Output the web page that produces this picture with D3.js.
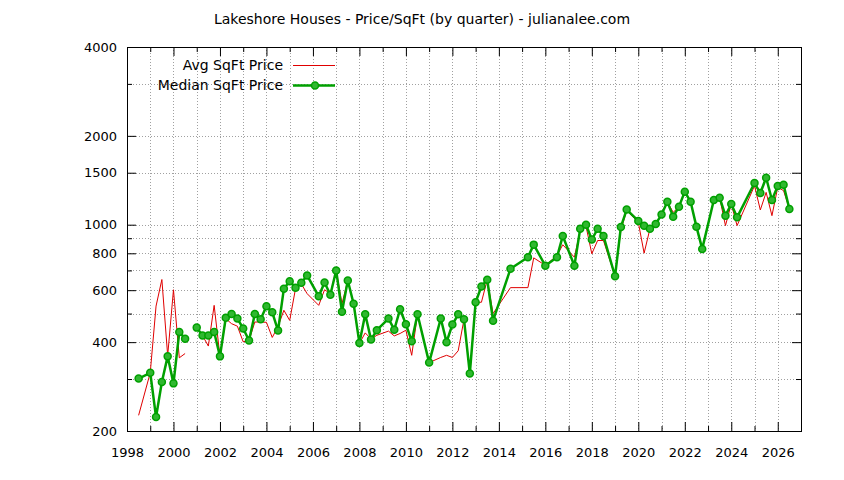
<!DOCTYPE html>
<html>
<head>
<meta charset="utf-8">
<script src="https://d3js.org/d3.v7.min.js"></script>
<style>
  body { margin: 0; background: #fff; }
  text { font-family: "DejaVu Sans", sans-serif; font-size: 13px; }
</style>
</head>
<body>
<div id="chart"></div>
<script>
// data (quarter as decimal year, null = no data -> gap in line)
var quarters = [1998.5, 1999.0, 1999.25, 1999.5, 1999.75, 2000.0, 2000.25, 2000.5, 2000.75,
  2001.0, 2001.25, 2001.5, 2001.75, 2002.0, 2002.25, 2002.5, 2002.75,
  2003.0, 2003.25, 2003.5, 2003.75, 2004.0, 2004.25, 2004.5, 2004.75,
  2005.0, 2005.25, 2005.5, 2005.75, 2006.25, 2006.5, 2006.75,
  2007.0, 2007.25, 2007.5, 2007.75, 2008.0, 2008.25, 2008.5, 2008.75,
  2009.25, 2009.5, 2009.75, 2010.0, 2010.25, 2010.5,
  2011.0, 2011.5, 2011.75, 2012.0, 2012.25, 2012.5, 2012.75,
  2013.0, 2013.25, 2013.5, 2013.75, 2014.5, 2015.25, 2015.5,
  2016.0, 2016.5, 2016.75, 2017.25, 2017.5, 2017.75,
  2018.0, 2018.25, 2018.5, 2019.0, 2019.25, 2019.5,
  2020.0, 2020.25, 2020.5, 2020.75, 2021.0, 2021.25, 2021.5, 2021.75,
  2022.0, 2022.25, 2022.5, 2022.75, 2023.25, 2023.5, 2023.75,
  2024.0, 2024.25, 2025.0, 2025.25, 2025.5, 2025.75,
  2026.0, 2026.25, 2026.5];

var avgPrice = [226, 315, 530, 652, 360, 602, 354, 366, null,
  448, 421, 388, 533, 358, 480, 462, 453,
  401, 405, 468, 468, 467, 415, 452, 513,
  474, 607, 630, 584, 533, 602, 584,
  700, 540, 647, 540, 396, 430, 410, 422,
  436, 420, 428, 439, 361, 497,
  341, 355, 361, 355, 374, 478, 313,
  546, 546, 651, 500, 612, 612, 772,
  728, 786, 855, 776, 955, 988,
  797, 884, 884, 669, 960, 1116,
  1019, 801, 968, 1006, 1082, 1196, 1101, 1151,
  1294, 1196, 985, 828, 1213, 1234, 993,
  1175, 993, 1355, 1122, 1287, 1073,
  1340, 1304, 1131];

var medianPrice = [301, 315, 223, 293, 358, 290, 433, 411, null,
  448, 421, 421, 433, 358, 484, 498, 481,
  445, 405, 498, 478, 529, 505, 438, 607,
  643, 612, 636, 673, 572, 637, 579,
  700, 507, 647, 540, 397, 497, 408, 439,
  481, 441, 517, 460, 403, 497,
  341, 481, 400, 459, 497, 478, 313,
  546, 618, 651, 473, 709, 776, 856,
  726, 776, 916, 726, 968, 1000,
  891, 968, 916, 669, 983, 1125,
  1030, 991, 968, 1006, 1082, 1196, 1065, 1151,
  1294, 1196, 985, 828, 1213, 1234, 1073,
  1175, 1059, 1384, 1280, 1443, 1213,
  1352, 1366, 1131];

var yTickValues = [200, 400, 600, 800, 1000, 1500, 2000, 4000];
var yMinorValues = [300, 500, 700, 900, 3000];
var xTickValues = d3.range(1998, 2027, 2);
var xMinorValues = d3.range(1999, 2027, 2);

var titleText = "Lakeshore Houses - Price/SqFt (by quarter) - julianalee.com";
var seriesNames = ["Avg SqFt Price", "Median SqFt Price"];

// Set up chart
var svgWidth = 844;
var svgHeight = 480;

var margin = { top: 47, right: 43, bottom: 49, left: 127 };
var width = svgWidth - margin.left - margin.right;
var height = svgHeight - margin.top - margin.bottom;

var redColor = "#e00000";
var greenColor = "#00a000";

var svg = d3.select("#chart")
  .append("svg")
  .attr("width", svgWidth)
  .attr("height", svgHeight);

var chartGroup = svg.append("g")
  .attr("transform", `translate(${margin.left}, ${margin.top})`);

// scales
var xScale = d3.scaleLinear()
  .domain([1998, 2027])
  .range([0, width]);

var yScale = d3.scaleLog()
  .domain([200, 4000])
  .range([height, 0]);

// grid (dotted)
var gridGroup = chartGroup.append("g")
  .attr("stroke", "#a0a0a0")
  .attr("stroke-width", 1)
  .attr("stroke-dasharray", "1,2");

gridGroup.selectAll(".gx")
  .data(xTickValues.concat(xMinorValues).filter(d => d > 1998))
  .enter()
  .append("line")
  .attr("x1", d => Math.round(xScale(d)) + 0.5)
  .attr("x2", d => Math.round(xScale(d)) + 0.5)
  .attr("y1", 0)
  .attr("y2", height);

gridGroup.selectAll(".gy")
  .data(yTickValues.concat(yMinorValues).filter(d => d > 200 && d < 4000))
  .enter()
  .append("line")
  .attr("x1", 0)
  .attr("x2", width)
  .attr("y1", d => Math.round(yScale(d)) + 0.5)
  .attr("y2", d => Math.round(yScale(d)) + 0.5);

// axes: ticks point inward, mirrored on top/right
function styleAxis(g) {
  g.select(".domain").remove();
  g.selectAll("line").attr("stroke", "#000");
  g.selectAll("text")
    .attr("fill", "#000")
    .style("font-family", "'DejaVu Sans', sans-serif")
    .style("font-size", "13px");
}

var xAxis = d3.axisBottom(xScale)
  .tickValues(xTickValues)
  .tickFormat(d3.format("d"))
  .tickSize(-9)
  .tickPadding(17);

chartGroup.append("g")
  .attr("transform", `translate(0, ${height})`)
  .call(xAxis)
  .call(styleAxis);

chartGroup.append("g")
  .attr("transform", `translate(0, ${height})`)
  .call(d3.axisBottom(xScale).tickValues(xMinorValues).tickFormat("").tickSize(-5))
  .call(styleAxis);

chartGroup.append("g")
  .call(d3.axisTop(xScale).tickValues(xTickValues).tickFormat("").tickSize(-9))
  .call(styleAxis);

chartGroup.append("g")
  .call(d3.axisTop(xScale).tickValues(xMinorValues).tickFormat("").tickSize(-5))
  .call(styleAxis);

var yAxis = d3.axisLeft(yScale)
  .tickValues(yTickValues)
  .tickFormat(d3.format("d"))
  .tickSize(-9)
  .tickPadding(10);

chartGroup.append("g")
  .call(yAxis)
  .call(styleAxis);

chartGroup.append("g")
  .call(d3.axisLeft(yScale).tickValues(yMinorValues).tickFormat("").tickSize(-5))
  .call(styleAxis);

chartGroup.append("g")
  .attr("transform", `translate(${width}, 0)`)
  .call(d3.axisRight(yScale).tickValues(yTickValues).tickFormat("").tickSize(-9))
  .call(styleAxis);

chartGroup.append("g")
  .attr("transform", `translate(${width}, 0)`)
  .call(d3.axisRight(yScale).tickValues(yMinorValues).tickFormat("").tickSize(-5))
  .call(styleAxis);

// border
chartGroup.append("rect")
  .attr("x", 0.5)
  .attr("y", 0.5)
  .attr("width", width)
  .attr("height", height)
  .attr("fill", "none")
  .attr("stroke", "#000");

// series
var avgData = quarters.map((q, i) => ({ x: q, y: avgPrice[i] }));
var medData = quarters.map((q, i) => ({ x: q, y: medianPrice[i] }));

var line = d3.line()
  .defined(d => d.y != null)
  .x(d => xScale(d.x))
  .y(d => yScale(d.y));

chartGroup.append("path")
  .datum(avgData)
  .attr("d", line)
  .attr("fill", "none")
  .attr("stroke", redColor)
  .attr("stroke-width", 1);

chartGroup.append("path")
  .datum(medData)
  .attr("d", line)
  .attr("fill", "none")
  .attr("stroke", greenColor)
  .attr("stroke-width", 2.5)
  .attr("stroke-linejoin", "round");

chartGroup.append("g")
  .selectAll("circle")
  .data(medData.filter(d => d.y != null))
  .enter()
  .append("circle")
  .attr("cx", d => xScale(d.x))
  .attr("cy", d => yScale(d.y))
  .attr("r", 3.5)
  .attr("fill", "#30b830")
  .attr("stroke", greenColor)
  .attr("stroke-width", 1.5);

// title
svg.append("text")
  .attr("x", 422)
  .attr("y", 24)
  .attr("text-anchor", "middle")
  .style("font-size", "14px")
  .text(titleText);

// legend
var legend = svg.append("g");

legend.selectAll("text")
  .data(seriesNames)
  .enter()
  .append("text")
  .attr("x", 283)
  .attr("y", (d, i) => 70 + i * 20)
  .attr("text-anchor", "end")
  .style("font-size", "14px")
  .text(d => d);

legend.append("line")
  .attr("x1", 293).attr("x2", 335)
  .attr("y1", 65.5).attr("y2", 65.5)
  .attr("stroke", redColor)
  .attr("stroke-width", 1);

legend.append("line")
  .attr("x1", 293).attr("x2", 335)
  .attr("y1", 85.5).attr("y2", 85.5)
  .attr("stroke", greenColor)
  .attr("stroke-width", 2.5);

legend.append("circle")
  .attr("cx", 315)
  .attr("cy", 85.5)
  .attr("r", 3.5)
  .attr("fill", "#30b830")
  .attr("stroke", greenColor)
  .attr("stroke-width", 1.5);
</script>
</body>
</html>
